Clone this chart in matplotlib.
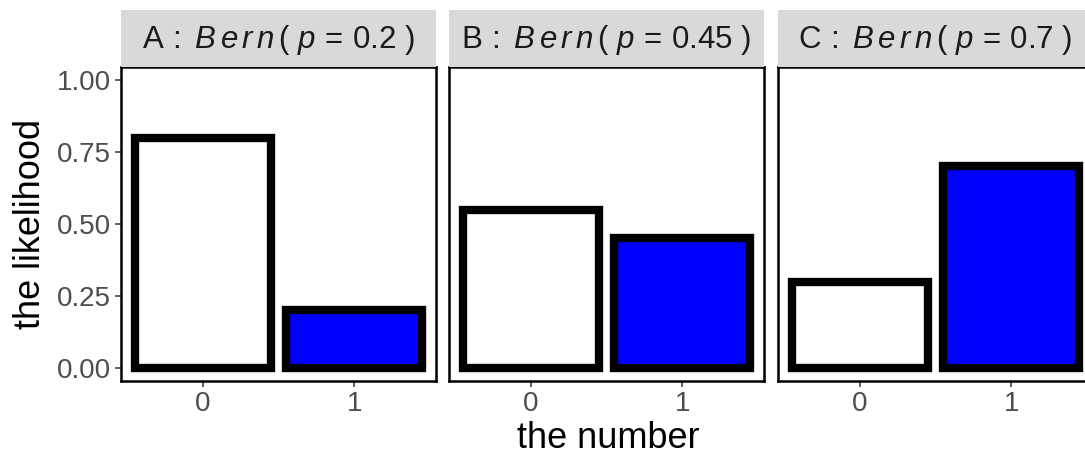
import matplotlib
matplotlib.use("Agg")
import matplotlib.pyplot as plt

plt.rcParams["font.family"] = ["Liberation Sans", "DejaVu Sans"]
plt.rcParams["mathtext.fontset"] = "custom"
plt.rcParams["mathtext.rm"] = "Liberation Sans"
plt.rcParams["mathtext.it"] = "Liberation Sans:italic"
plt.rcParams["mathtext.default"] = "rm"

# Bernoulli outcomes and probabilities per facet
outcomes = ["0", "1"]
facet_labels = ["A", "B", "C"]
p_values = ["0.2", "0.45", "0.7"]
likelihood_A = [0.8, 0.2]
likelihood_B = [0.55, 0.45]
likelihood_C = [0.3, 0.7]
likelihoods = [likelihood_A, likelihood_B, likelihood_C]
bar_fills = ["white", "#0000FF"]
y_ticks = [0.0, 0.25, 0.5, 0.75, 1.0]
y_tick_labels = ["0.00", "0.25", "0.50", "0.75", "1.00"]

W, H = 1085, 455
fig = plt.figure(figsize=(W / 100, H / 100), dpi=100)

panel_lefts = [121, 449, 778]
panel_width = 315
panel_top, panel_bottom = 67, 381
strip_top = 10

tick_color = "#4D4D4D"
for i, (lab, p, vals) in enumerate(zip(facet_labels, p_values, likelihoods)):
    left = panel_lefts[i]
    ax = fig.add_axes([left / W, (H - panel_bottom) / H,
                       panel_width / W, (panel_bottom - panel_top) / H])
    xs = list(range(len(outcomes)))
    ax.bar(xs, vals, width=0.9, color=bar_fills, edgecolor="black",
           linewidth=6.0, joinstyle="miter", zorder=3)
    ax.set_xlim(-0.54, 1.54)
    ax.set_ylim(-0.045, 1.045)
    ax.set_xticks(xs)
    ax.set_xticklabels(outcomes)
    ax.set_yticks(y_ticks)
    if i == 0:
        ax.set_yticklabels(y_tick_labels)
    else:
        ax.tick_params(axis="y", left=False, labelleft=False)
    ax.tick_params(axis="both", colors="#333333", labelcolor=tick_color,
                   labelsize=20, length=4, width=1.1, pad=3)
    for s in ax.spines.values():
        s.set_linewidth(1.8)
        s.set_color("black")
    ax.set_facecolor("white")

    # facet strip
    sax = fig.add_axes([left / W, (H - panel_top) / H,
                        panel_width / W, (panel_top - strip_top) / H])
    sax.set_facecolor("#D9D9D9")
    sax.set_xticks([])
    sax.set_yticks([])
    for s in sax.spines.values():
        s.set_visible(False)
    label = (r"$\mathrm{" + lab + r"}\,:\ \mathit{B\,e\,r\,n}\,(\ \mathit{p}\,=\,"
             + p + r"\ )$")
    sax.text(0.5, 0.47, label, transform=sax.transAxes,
             ha="center", va="center", fontsize=22.5, color="#1A1A1A")

fig.text(608 / W, 1 - 438 / H, "the number", ha="center", va="center",
         fontsize=26, color="black")
fig.text(30 / W, 1 - 224 / H, "the likelihood", ha="center", va="center",
         rotation=90, fontsize=26, color="black")

fig.savefig("out.png", dpi=100, facecolor="white")
